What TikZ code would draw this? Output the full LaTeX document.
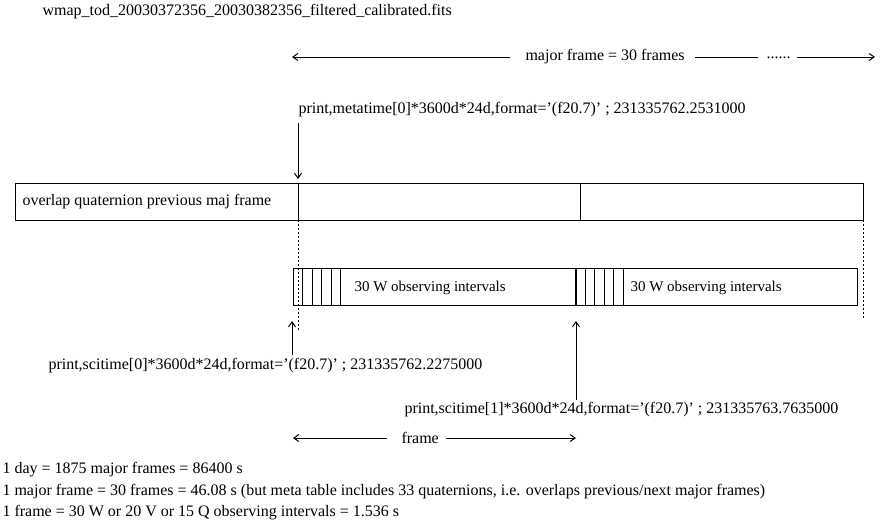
\documentclass[tikz,border=0pt]{standalone}
\usepackage{fontspec}
\setmainfont{Liberation Serif}
\usetikzlibrary{arrows.meta}

\tikzset{
  lbl/.style={inner sep=0pt, anchor=west, font=\fontsize{16}{18}\selectfont},
  dotline/.style={dash pattern=on 2pt off 2pt, line width=0.8pt}
}

\begin{document}
\begin{tikzpicture}[x=1pt, y=-1pt, line width=1pt, >={Straight Barb[length=5pt,width=7pt]}]
\useasboundingbox (0,0) rectangle (886,522);

  %file name
  \node[lbl] (fname) at (42,12) {wmap\_tod\_20030372356\_20030382356\_filtered\_calibrated.fits};

  %major frame
  \coordinate (MA) at (292,57);
  \coordinate (MB) at (510,57);
  \coordinate (MC) at (695,57);
  \coordinate (MD) at (758,57);
  \coordinate (ME) at (797,57);
  \coordinate (MF) at (875,57);
  \node[lbl] (mframe) at (525,57) {major frame = 30 frames};
  \node[lbl] (mdots) at (766,58) {......};
  \draw[<-] (MA) -- (MB);
  \draw (MC) -- (MD);
  \draw[->] (ME) -- (MF);

  %metatime
  \node[lbl] (meta) at (298,110) {print,metatime[0]*3600d*24d,format=’(f20.7)’ ; 231335762.2531000};
  \coordinate (TA) at (298,123);
  \coordinate (TB) at (298,179);
  \draw[->] (TA) -- (TB);

  %quaternion frames
  \coordinate (QA) at (15,183);
  \coordinate (QB) at (863,220);
  \coordinate (QC) at (298,183);
  \coordinate (QD) at (298,220);
  \coordinate (QE) at (580,183);
  \coordinate (QF) at (580,220);
  \draw (QA) rectangle (QB);
  \draw (QC) -- (QD);
  \draw (QE) -- (QF);
  \node[lbl] (overlap) at (22,202) {overlap quaternion previous maj frame};

  %dotted guides
  \coordinate (GA) at (298,330);
  \coordinate (GB) at (863,318);
  \draw[dotline] (QD) -- (GA);
  \draw[dotline] (QB) -- (GB);

  %science frames
  \coordinate (SA) at (293,268);
  \coordinate (SB) at (857,305);
  \draw (SA) rectangle (SB);
  \foreach \x in {302,312,321,331,340,585,594,604,613,623}
    \draw (\x,268) -- (\x,305);
  \draw[line width=1.8pt] (576,268) -- (576,305);
  \node[lbl, font=\fontsize{15}{17}\selectfont] (obsA) at (354,288) {30 W observing intervals};
  \node[lbl, font=\fontsize{15}{17}\selectfont] (obsB) at (630,288) {30 W observing intervals};

  %scitime
  \coordinate (UA) at (292,355);
  \coordinate (UB) at (292,321);
  \coordinate (UC) at (576,400);
  \coordinate (UD) at (576,321);
  \draw[->] (UA) -- (UB);
  \draw[->] (UC) -- (UD);
  \node[lbl] (sciA) at (48,366) {print,scitime[0]*3600d*24d,format=’(f20.7)’ ; 231335762.2275000};
  \node[lbl] (sciB) at (404,410) {print,scitime[1]*3600d*24d,format=’(f20.7)’ ; 231335763.7635000};

  %frame
  \coordinate (FA) at (293,438);
  \coordinate (FB) at (387,438);
  \coordinate (FC) at (446,438);
  \coordinate (FD) at (576,438);
  \node[lbl] (frame) at (401,438) {frame};
  \draw[<-] (FA) -- (FB);
  \draw[->] (FC) -- (FD);

  %notes
  \node[lbl] (noteA) at (2,470) {1 day = 1875 major frames = 86400 s};
  \node[lbl] (noteB) at (2,492) {1 major frame = 30 frames = 46.08 s (but meta table includes 33 quaternions, i.e. overlaps previous/next major frames)};
  \node[lbl] (noteC) at (2,513) {1 frame = 30 W or 20 V or 15 Q observing intervals = 1.536 s};
\end{tikzpicture}
\end{document}
